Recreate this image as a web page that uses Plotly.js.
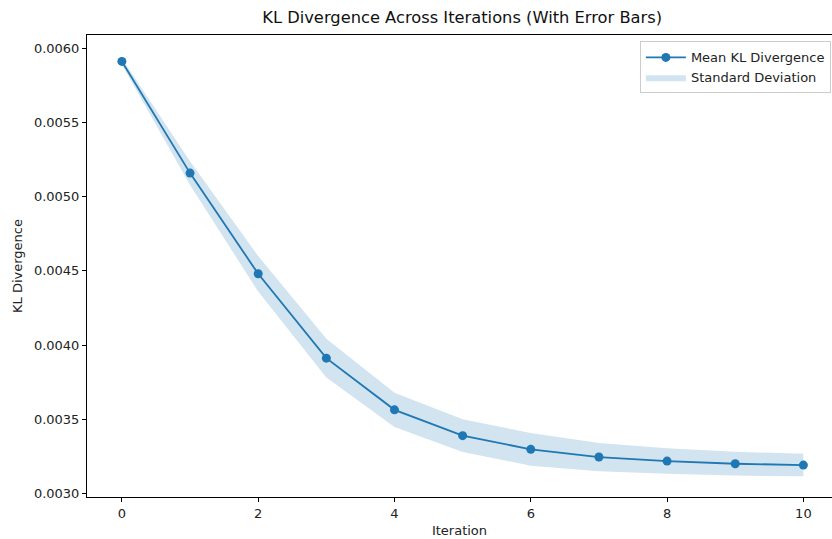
<!DOCTYPE html>
<html>
<head>
<meta charset="utf-8">
<script src="https://cdn.plot.ly/plotly-3.0.1.min.js"></script>
<style>html,body{margin:0;padding:0;background:#fff;}#chart{width:832px;height:539px;}</style>
</head>
<body>
<div id="chart"></div>
<script>
const iterations = [0, 1, 2, 3, 4, 5, 6, 7, 8, 9, 10];
const meanKL = [0.00591, 0.005158, 0.00448, 0.003912, 0.003564, 0.00339, 0.003298, 0.003246, 0.003219, 0.003201, 0.003192];
const stdKL = [0.00002, 0.00008, 0.00012, 0.00013, 0.000115, 0.00011, 0.00011, 0.000095, 0.000086, 0.00008, 0.000076];
const xTicks = [0, 2, 4, 6, 8, 10];
const yTicks = [0.0030, 0.0035, 0.0040, 0.0045, 0.0050, 0.0055, 0.0060];

const lower = meanKL.map((m, i) => m - stdKL[i]);
const upper = meanKL.map((m, i) => m + stdKL[i]);
const blue = '#1f77b4';
const font = 'DejaVu Sans, sans-serif';

const traces = [
  {x: iterations, y: lower, type: 'scatter', mode: 'lines', line: {width: 0, color: 'rgba(31,119,180,0)'}, showlegend: false, hoverinfo: 'skip'},
  {x: iterations, y: upper, type: 'scatter', mode: 'lines', fill: 'tonexty', fillcolor: 'rgba(31,119,180,0.2)', line: {width: 0, color: 'rgba(31,119,180,0)'}, name: 'Standard Deviation', legendrank: 2},
  {x: iterations, y: meanKL, type: 'scatter', mode: 'lines+markers', line: {color: blue, width: 1.8}, marker: {color: blue, size: 9}, name: 'Mean KL Divergence', legendrank: 1}
];

const layout = {
  width: 832, height: 539,
  margin: {l: 87, r: 0, t: 35, b: 42, pad: 0},
  paper_bgcolor: '#fff', plot_bgcolor: '#fff',
  font: {family: font, size: 13, color: '#222'},
  title: {text: 'KL Divergence Across Iterations (With Error Bars)', font: {family: font, size: 16.3, color: '#111'}, x: 0.5555, xanchor: 'center', y: 0.967, yanchor: 'middle'},
  xaxis: {
    range: [-0.512, 10.42], tickvals: xTicks, ticktext: xTicks.map(String),
    showgrid: false, zeroline: false, showline: true, linecolor: '#000', linewidth: 1, mirror: true,
    ticks: 'outside', ticklen: 4, tickcolor: '#000', tickfont: {size: 13, color: '#222'},
    title: {text: 'Iteration', font: {size: 13, color: '#222'}, standoff: 6}
  },
  yaxis: {
    range: [0.002977, 0.006088], tickvals: yTicks, ticktext: yTicks.map(v => v.toFixed(4)),
    showgrid: false, zeroline: false, showline: true, linecolor: '#000', linewidth: 1,
    ticks: 'outside', ticklen: 4, tickcolor: '#000', tickfont: {size: 13, color: '#222'},
    title: {text: 'KL Divergence', font: {size: 13, color: '#222'}, standoff: 8}
  },
  legend: {x: 0.9985, xanchor: 'right', y: 0.986, yanchor: 'top', traceorder: 'normal', bgcolor: '#fff', bordercolor: '#ccc', borderwidth: 1, font: {size: 13, color: '#222'}, tracegroupgap: 0, itemwidth: 40}
};

Plotly.newPlot('chart', traces, layout, {displayModeBar: false, staticPlot: true});
</script>
</body>
</html>
